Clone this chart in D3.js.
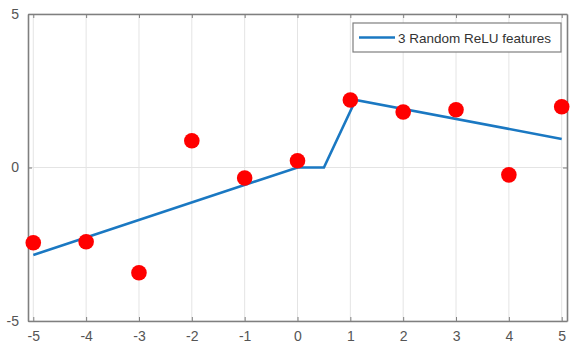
<!DOCTYPE html>
<html lang="en">
<head>
<meta charset="UTF-8">
<title>ReLU features</title>
<script src="https://d3js.org/d3.v7.min.js"></script>
<style>
  body { margin: 0; background: #fff; }
  text { font-family: "Liberation Sans", Arial, sans-serif; }
</style>
</head>
<body>
<script>
// sample points
var pointX = [-5, -4, -3, -2, -1, 0, 1, 2, 3, 4, 5];
var pointY = [-2.45, -2.42, -3.43, 0.87, -0.34, 0.22, 2.2, 1.81, 1.88, -0.24, 1.98];
// fitted curve (knots)
var fitX = [-5, 0, 0.5, 1.1, 5];
var fitY = [-2.85, 0, 0, 2.2, 0.93];
var xTicks = [-5, -4, -3, -2, -1, 0, 1, 2, 3, 4, 5];
var yTicks = [-5, 0, 5];
var legendLabel = "3 Random ReLU features";

var width = 572, height = 350;
var svg = d3.select("body").append("svg").attr("width", width).attr("height", height);

var x = d3.scaleLinear().domain([-5.1, 5.1]).range([28, 567]);
var y = d3.scaleLinear().domain([-5, 5]).range([321, 14]);

var axisColor = "#7f7f7f";
var fmt = function(d) { return String(d); }; // plain hyphen minus

// grid
svg.append("g").selectAll("line").data(xTicks).enter().append("line")
  .attr("x1", function(d) { return x(d); }).attr("x2", function(d) { return x(d); })
  .attr("y1", y(5)).attr("y2", y(-5))
  .attr("stroke", "#e4e4e4").attr("stroke-width", 1);
svg.append("g").selectAll("line").data(yTicks).enter().append("line")
  .attr("x1", x(-5.1)).attr("x2", x(5.1))
  .attr("y1", function(d) { return y(d); }).attr("y2", function(d) { return y(d); })
  .attr("stroke", "#e4e4e4").attr("stroke-width", 1);

// axes
var axB = svg.append("g").attr("transform", "translate(0," + y(-5) + ")")
  .call(d3.axisBottom(x).tickValues(xTicks).tickFormat(fmt).tickSizeInner(-4).tickSizeOuter(0).tickPadding(10));
var axT = svg.append("g").attr("transform", "translate(0," + y(5) + ")")
  .call(d3.axisTop(x).tickValues(xTicks).tickSizeInner(-4).tickSizeOuter(0).tickFormat(""));
var axL = svg.append("g").attr("transform", "translate(" + x(-5.1) + ",0)")
  .call(d3.axisLeft(y).tickValues(yTicks).tickFormat(fmt).tickSizeInner(-4).tickSizeOuter(0).tickPadding(9));
var axR = svg.append("g").attr("transform", "translate(" + x(5.1) + ",0)")
  .call(d3.axisRight(y).tickValues(yTicks).tickSizeInner(-4).tickSizeOuter(0).tickFormat(""));

[axB, axT, axL, axR].forEach(function(a) {
  a.select(".domain").attr("stroke", axisColor).attr("stroke-width", 1.6);
  a.selectAll(".tick line").attr("stroke", axisColor);
  a.selectAll(".tick text").attr("fill", "#555").style("font-size", "14px");
});

// fitted line
var line = d3.line().x(function(d) { return x(d[0]); }).y(function(d) { return y(d[1]); });
svg.append("path")
  .datum(d3.zip(fitX, fitY))
  .attr("d", line)
  .attr("fill", "none")
  .attr("stroke", "#1a78c2")
  .attr("stroke-width", 2.6);

// points
svg.append("g").selectAll("circle").data(d3.zip(pointX, pointY)).enter().append("circle")
  .attr("cx", function(d) { return x(d[0]); })
  .attr("cy", function(d) { return y(d[1]); })
  .attr("r", 7.8)
  .attr("fill", "#ff0000");

// legend
var lg = svg.append("g").attr("transform", "translate(353,23)");
lg.append("rect").attr("width", 208).attr("height", 29)
  .attr("fill", "#fff").attr("stroke", "#7f7f7f").attr("stroke-width", 1.2);
lg.append("line").attr("x1", 6).attr("x2", 42).attr("y1", 14.5).attr("y2", 14.5)
  .attr("stroke", "#1a78c2").attr("stroke-width", 2.6);
lg.append("text").attr("x", 45).attr("y", 19.5).attr("fill", "#333")
  .style("font-size", "13.5px").text(legendLabel);
</script>
</body>
</html>
